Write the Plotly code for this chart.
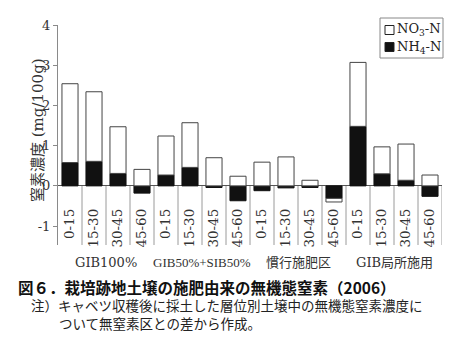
import plotly.graph_objects as go

# Soil depth layers (cm) for each treatment plot
depths = ["0-15", "15-30", "30-45", "45-60"] * 4
groups = ["GIB100%", "GIB50%+SIB50%", "慣行施肥区", "GIB局所施用"]

# Inorganic N from fertilizer (mg/100g), difference from the no-N plot
nh4 = [0.58, 0.61, 0.31, -0.18, 0.27, 0.46, -0.04, -0.37,
       -0.12, -0.05, -0.04, -0.31, 1.48, 0.30, 0.14, -0.26]
no3 = [1.96, 1.73, 1.16, 0.41, 0.97, 1.11, 0.70, 0.24,
       0.59, 0.72, 0.14, -0.09, 1.59, 0.67, 0.90, 0.27]

y_tickvals = [-1, 0, 1, 2, 3, 4]
y_ticktext = ["-1", "0", "1", "2", "3", "4"]

SERIF = "DejaVu Serif, Noto Sans CJK JP"
JP = "Noto Sans CJK JP"

# plot area in pixels
L, R, T, B = 58, 18, 25, 94
W, H = 460, 339
PW, PH = W - L - R, H - T - B


def px(xp):
    return (xp - L) / PW


def py(yp):
    return (H - B - yp) / PH


xs = list(range(len(depths)))
y_min, y_max = -1.47, 4.0

fig = go.Figure()
fig.add_trace(go.Bar(x=xs, y=nh4, name="NH4-N", width=0.67,
                     marker=dict(color="#111111", line=dict(color="#111111", width=1))))
fig.add_trace(go.Bar(x=xs, y=no3, name="NO3-N", width=0.67,
                     marker=dict(color="white", line=dict(color="#444444", width=1))))

shapes = []
# layer separators below the zero line
for i in range(len(depths)):
    shapes.append(dict(type="line", xref="x", yref="y", x0=i + 0.5, x1=i + 0.5,
                       y0=0, y1=y_min, line=dict(color="#9a9a9a", width=1), layer="below"))

annotations = []
for g, name in enumerate(groups):
    annotations.append(dict(x=g * 4 + 1.5, xref="x", y=py(262), yref="paper",
                            text=name, showarrow=False, xanchor="center", yanchor="middle",
                            font=dict(family="Liberation Serif, Noto Sans CJK JP" if g == 1 else SERIF,
                                      size=13 if g == 1 else 13, color="#333")))

# y-axis title
annotations.append(dict(x=px(27), y=py(130), xref="paper", yref="paper",
                        text="窒素濃度 (mg/100g)", textangle=-90, showarrow=False,
                        font=dict(family=SERIF, size=15, color="#333")))

# caption
annotations.append(dict(x=px(16), y=py(287), xref="paper", yref="paper",
                        text="<b>図６．栽培跡地土壌の施肥由来の無機態窒素（2006）</b>",
                        showarrow=False, xanchor="left", yanchor="middle",
                        font=dict(family=JP, size=15.5, color="#111")))
annotations.append(dict(x=px(29), y=py(304.5), xref="paper", yref="paper",
                        text="注）キャベツ収穫後に採土した層位別土壌中の無機態窒素濃度に",
                        showarrow=False, xanchor="left", yanchor="middle",
                        font=dict(family=JP, size=13.5, color="#222")))
annotations.append(dict(x=px(57), y=py(322.5), xref="paper", yref="paper",
                        text="ついて無窒素区との差から作成。",
                        showarrow=False, xanchor="left", yanchor="middle",
                        font=dict(family=JP, size=13.5, color="#222")))

# legend box
shapes.append(dict(type="rect", xref="paper", yref="paper",
                   x0=px(380), x1=px(443), y0=py(58), y1=py(18),
                   line=dict(color="#888", width=1), fillcolor="white"))
for yc, fill, label in [(30, "white", "NO<sub>3</sub>-N"), (47, "#111", "NH<sub>4</sub>-N")]:
    shapes.append(dict(type="rect", xref="paper", yref="paper",
                       x0=px(385), x1=px(394), y0=py(yc + 4.5), y1=py(yc - 4.5),
                       line=dict(color="#222", width=1), fillcolor=fill))
    annotations.append(dict(x=px(395), y=py(yc), xref="paper", yref="paper",
                            text=label, showarrow=False, xanchor="left", yanchor="middle",
                            font=dict(family=SERIF, size=13, color="#222")))

fig.update_layout(
    width=W, height=H,
    margin=dict(l=L, r=R, t=T, b=B),
    paper_bgcolor="white", plot_bgcolor="white",
    barmode="relative", showlegend=False,
    shapes=shapes, annotations=annotations,
    xaxis=dict(range=[-0.5, len(depths) - 0.5], tickvals=xs, ticktext=depths,
               tickangle=-90, anchor="free", position=py(205), showline=False,
               showgrid=False, zeroline=False, ticks="",
               tickfont=dict(family=SERIF, size=13.5, color="#333")),
    yaxis=dict(range=[y_min, y_max], tickvals=y_tickvals, ticktext=y_ticktext,
               showgrid=False, zeroline=True, zerolinecolor="#555", zerolinewidth=1,
               showline=True, linecolor="#8a8a8a", linewidth=1,
               ticks="outside", ticklen=4, tickcolor="#8a8a8a",
               tickfont=dict(family=SERIF, size=13, color="#333")),
)

fig.write_html("out.html")
